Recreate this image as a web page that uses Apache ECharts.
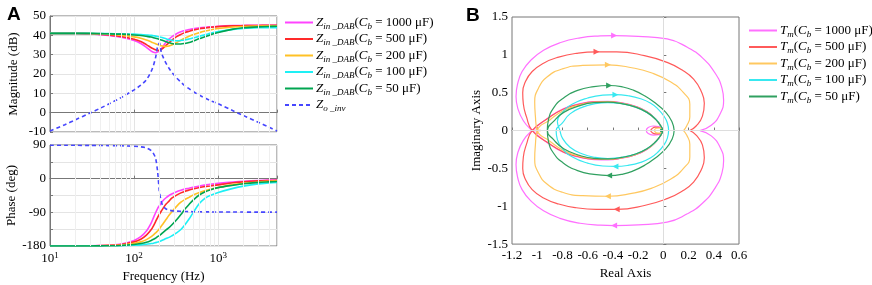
<!DOCTYPE html>
<html>
<head>
<meta charset="utf-8">
<script src="https://cdn.jsdelivr.net/npm/echarts@6/dist/echarts.min.js"></script>
<style>
html, body { margin: 0; background: #fff; }
#chart { width: 872px; height: 285px; }
</style>
</head>
<body>
<div id="chart"></div>
<script>
// capacitance cases (legend order)
const caps = ['1000', '500', '200', '100', '50']

// frequency points (Hz) for panel A
const freq = [10, 15, 20, 30, 40, 50, 70, 100, 120, 140, 160, 170, 180, 190, 200, 210, 220, 240, 260, 280, 320, 360, 400, 450, 500, 600, 700, 800, 1000, 1500, 2000, 3000, 4000, 5000]

// magnitude (dB)
const magZo = [-9.5, -6.2, -3.7, -0.2, 2.4, 4.5, 7.8, 11.8, 14.2, 17, 21.5, 24.5, 28.5, 34, 36, 31.5, 29, 25.5, 23, 21, 18, 15.8, 14, 12.4, 11, 9, 7.5, 6.3, 4.6, 1, -1.5, -5, -7.5, -9.5]
const mag1000 = [41, 41, 41, 40.7, 40.3, 39.9, 39, 37.3, 35.8, 33.8, 31.8, 31.2, 31, 31.3, 32, 33, 34.2, 36.5, 38, 39.2, 40.8, 41.8, 42.5, 43, 43.4, 43.9, 44.2, 44.4, 44.7, 45, 45.1, 45.2, 45.2, 45.2]
const mag500 = [41, 41, 41, 40.8, 40.5, 40.2, 39.4, 38, 36.8, 35.2, 33.6, 33, 32.5, 32.2, 32.2, 32.6, 33.3, 34.8, 36.2, 37.4, 39.3, 40.5, 41.4, 42.1, 42.7, 43.4, 43.8, 44.1, 44.5, 44.9, 45, 45.1, 45.2, 45.2]
const mag200 = [41, 41, 41, 40.9, 40.8, 40.6, 40.1, 39.2, 38.5, 37.6, 36.6, 36.1, 35.6, 35.2, 34.9, 34.6, 34.4, 34.3, 34.5, 35, 36.3, 37.5, 38.5, 39.5, 40.3, 41.4, 42.2, 42.8, 43.5, 44.3, 44.6, 44.8, 44.9, 44.9]
const mag100 = [41, 41, 41, 41, 40.95, 40.9, 40.8, 40.6, 40.4, 40.2, 40, 39.8, 39.6, 39.4, 39.2, 39, 38.7, 38.2, 37.7, 37.4, 37.2, 37.3, 37.6, 38.1, 38.6, 39.6, 40.3, 41, 41.9, 43.1, 43.6, 43.9, 44, 44]
const mag50 = [41, 41, 41, 41, 40.9, 40.8, 40.6, 40.2, 39.9, 39.5, 39.1, 38.8, 38.5, 38.2, 37.9, 37.6, 37.3, 36.7, 36.2, 35.8, 35.5, 35.5, 35.8, 36.3, 37, 38.3, 39.3, 40.2, 41.5, 43.2, 43.9, 44.4, 44.6, 44.7]

// phase (deg)
const phZo = [89.5, 89.4, 89.2, 89, 88.7, 88.4, 87.8, 86.5, 85, 82, 75, 67, 55, 20, -35, -60, -73, -81, -84, -85.5, -86.8, -87.4, -87.8, -88.1, -88.3, -88.6, -88.8, -88.9, -89, -89.2, -89.3, -89.4, -89.4, -89.5]
const ph1000 = [-180, -180, -179.8, -179.5, -179, -178, -175, -165, -155, -140, -118, -104, -91, -80, -72, -65, -59, -51, -45, -41, -35, -31, -28, -25.5, -23, -19.5, -17, -15, -12.5, -9, -7, -5, -4, -3.5]
const ph500 = [-180, -180, -179.8, -179.5, -179, -178.3, -176, -169, -162, -151, -136, -126, -115, -104, -95, -87, -80, -68, -60, -52, -44, -38, -34, -30.5, -27.5, -23.5, -21, -19.5, -16.5, -11, -8.5, -6, -5, -4.5]
const ph200 = [-180, -180, -179.9, -179.7, -179.4, -179, -177.5, -173, -169, -163, -155, -150, -145, -140, -134, -127, -121, -109, -98, -89, -74, -63, -56, -50, -44, -37, -32, -28.5, -23.5, -16, -12.5, -9, -7, -6]
const ph100 = [-180, -180, -180, -179.9, -179.7, -179.5, -179, -178, -177, -175.5, -173.5, -172.5, -171, -169.5, -168, -166, -164, -160, -157, -153, -145, -136, -124, -108, -92, -66, -52, -45, -37, -26, -20, -14, -11.5, -10]
const ph50 = [-180, -180, -180, -179.8, -179.6, -179.3, -178.5, -176, -173.5, -170, -165, -162, -159, -155, -152, -148, -144, -137, -131, -124, -110, -96, -82, -69, -58, -43, -35, -30, -24, -17.5, -13.5, -10, -8.5, -7.5]

// Nyquist of T_m, upper half: outer arc (left crossing -> right end), inner arc (left crossing -> origin), small loop at origin
const tmOuter1000 = [[-1.04, 0], [-1.11, 0.13], [-1.155, 0.3], [-1.168, 0.45], [-1.155, 0.62], [-1.12, 0.78], [-1.05, 0.93], [-0.95, 1.06], [-0.82, 1.16], [-0.66, 1.225], [-0.5, 1.25], [-0.39, 1.255], [-0.2, 1.245], [0.03, 1.21], [0.19, 1.1], [0.31, 0.96], [0.41, 0.76], [0.465, 0.56], [0.478, 0.4], [0.45, 0.22], [0.38, 0.07], [0.29, 0]]
const tmOuter500 = [[-1.04, 0], [-1.085, 0.18], [-1.11, 0.35], [-1.115, 0.5], [-1.095, 0.64], [-1.04, 0.78], [-0.95, 0.89], [-0.83, 0.97], [-0.69, 1.02], [-0.53, 1.04], [-0.37, 1.04], [-0.15, 0.99], [0.03, 0.9], [0.15, 0.8], [0.24, 0.68], [0.3, 0.52], [0.325, 0.36], [0.31, 0.19], [0.26, 0.06], [0.21, 0]]
const tmOuter200 = [[-1.0, 0], [-1.015, 0.2], [-1.02, 0.38], [-0.99, 0.56], [-0.92, 0.71], [-0.8, 0.815], [-0.64, 0.86], [-0.44, 0.868], [-0.25, 0.83], [-0.09, 0.76], [0.06, 0.64], [0.16, 0.5], [0.21, 0.35], [0.21, 0.18], [0.185, 0.06], [0.16, 0]]
const tmOuter100 = [[-0.85, 0], [-0.84, 0.12], [-0.8, 0.24], [-0.72, 0.35], [-0.6, 0.43], [-0.48, 0.468], [-0.38, 0.474], [-0.28, 0.46], [-0.18, 0.42], [-0.1, 0.36], [-0.04, 0.28], [0.005, 0.19], [0.032, 0.1], [0.042, 0]]
const tmOuter50 = [[-0.92, 0], [-0.91, 0.15], [-0.87, 0.3], [-0.8, 0.42], [-0.68, 0.53], [-0.55, 0.58], [-0.43, 0.595], [-0.32, 0.575], [-0.234, 0.53], [-0.15, 0.46], [-0.077, 0.38], [0.02, 0.24], [0.07, 0.11], [0.086, 0]]

const tmInner1000 = [[-1.04, 0], [-0.92, 0.16], [-0.79, 0.29], [-0.66, 0.355], [-0.55, 0.383], [-0.44, 0.387], [-0.33, 0.365], [-0.22, 0.32], [-0.13, 0.25], [-0.06, 0.15], [-0.02, 0.06], [0, 0]]
const tmInner500 = [[-1.04, 0], [-0.92, 0.155], [-0.79, 0.285], [-0.66, 0.35], [-0.55, 0.378], [-0.44, 0.382], [-0.33, 0.362], [-0.22, 0.318], [-0.13, 0.248], [-0.06, 0.15], [-0.02, 0.06], [0, 0]]
const tmInner200 = [[-1.0, 0], [-0.9, 0.14], [-0.79, 0.265], [-0.66, 0.34], [-0.55, 0.372], [-0.44, 0.378], [-0.33, 0.36], [-0.22, 0.315], [-0.13, 0.245], [-0.06, 0.15], [-0.02, 0.06], [0, 0]]
const tmInner100 = [[-0.82, 0], [-0.8, 0.1], [-0.74, 0.22], [-0.64, 0.31], [-0.54, 0.355], [-0.44, 0.37], [-0.33, 0.355], [-0.22, 0.31], [-0.13, 0.24], [-0.06, 0.15], [-0.02, 0.06], [0, 0]]
const tmInner50 = [[-0.92, 0], [-0.87, 0.12], [-0.79, 0.24], [-0.66, 0.33], [-0.55, 0.368], [-0.44, 0.375], [-0.33, 0.355], [-0.22, 0.31], [-0.13, 0.24], [-0.06, 0.145], [-0.02, 0.06], [0, 0]]

const tmLoop1000 = [[0, 0], [-0.03, 0.05], [-0.08, 0.06], [-0.12, 0.04], [-0.135, 0]]
const tmLoop500 = [[0, 0], [-0.03, 0.04], [-0.065, 0.045], [-0.09, 0.025], [-0.1, 0]]
const tmLoop200 = [[0, 0], [-0.025, 0.035], [-0.055, 0.03], [-0.07, 0]]
const tmLoop100 = [[0, 0], [-0.01, 0.015], [-0.025, 0]]
const tmLoop50 = [[0, 0], [-0.01, 0.015], [-0.025, 0]]

const criticalPoint = [[-1, 0]]

const magData = [mag1000, mag500, mag200, mag100, mag50]
const phData = [ph1000, ph500, ph200, ph100, ph50]
const tmOuter = [tmOuter1000, tmOuter500, tmOuter200, tmOuter100, tmOuter50]
const tmInner = [tmInner1000, tmInner500, tmInner200, tmInner100, tmInner50]
const tmLoop = [tmLoop1000, tmLoop500, tmLoop200, tmLoop100, tmLoop50]

const colorsA = ['#ff44ff', '#ff2a2a', '#ffc125', '#1ef0f5', '#00a550']
const colorsB = ['#ff70ff', '#ff5a5a', '#ffc860', '#38e8f0', '#30a060']
const zoColor = '#4646ff'

const serif = 'Liberation Serif'
const richBase = {
  n: { fontFamily: serif, fontSize: 13, color: '#000', lineHeight: 17, verticalAlign: 'middle' },
  it: { fontFamily: serif, fontSize: 13, fontStyle: 'italic', color: '#000', lineHeight: 17, verticalAlign: 'middle' },
  sub: { fontFamily: serif, fontSize: 9, fontStyle: 'italic', color: '#000', lineHeight: 9, verticalAlign: 'bottom' }
}

// closed Nyquist contour from the upper-half arcs and their conjugates
const nyquistPath = (outer, inner, loop) => {
  const conj = p => [p[0], -p[1]]
  return [
    ...outer.slice().reverse().map(conj),
    ...inner.slice(1),
    ...loop.slice(1),
    ...loop.slice(0, -1).reverse().map(conj),
    ...inner.slice(0, -1).reverse().map(conj),
    ...outer.slice(1)
  ]
}

const withArrows = path => {
  let top = 0, bot = 0
  path.forEach((p, i) => {
    if (p[1] > path[top][1]) top = i
    if (p[1] < path[bot][1]) bot = i
  })
  return path.map((p, i) => {
    if (i === top) return { value: p, symbol: 'triangle', symbolSize: 6, symbolRotate: -90 }
    if (i === bot) return { value: p, symbol: 'triangle', symbolSize: 6, symbolRotate: 90 }
    return p
  })
}

// minor log grid positions
const minorFreq = []
;[10, 100, 1000].forEach(d => {
  for (let k = 2; k <= 9; k++) if (d * k < 5000) minorFreq.push(d * k)
})

const logLabel = v => {
  const l = Math.log10(v)
  const r = Math.round(l)
  return Math.abs(l - r) < 1e-6 ? '{b|10}{s|' + r + '}' : ''
}

const axisTextStyle = { fontFamily: serif, fontSize: 13, color: '#000' }
const frameLine = { show: true, lineStyle: { color: '#777', width: 1 } }
const tickIn = { show: true, inside: true, length: 3, lineStyle: { color: '#777' } }
const gridLine = { show: true, lineStyle: { color: '#e4e4e4', width: 1 } }

const series = []
for (const g of [0, 1]) {
  series.push({
    type: 'line', xAxisIndex: g, yAxisIndex: g, data: [], silent: true, z: 1,
    markLine: {
      silent: true, symbol: 'none', label: { show: false },
      lineStyle: { color: '#efefef', width: 1, type: 'solid' },
      data: minorFreq.map(f => ({ xAxis: f }))
    }
  })
}
caps.forEach((c, k) => {
  series.push({
    name: 'Z' + c, type: 'line', xAxisIndex: 0, yAxisIndex: 0, symbol: 'none', smooth: 0.3,
    lineStyle: { color: colorsA[k], width: 1.6 }, itemStyle: { color: colorsA[k] },
    data: freq.map((f, i) => [f, magData[k][i]])
  })
  series.push({
    name: 'Z' + c, type: 'line', xAxisIndex: 1, yAxisIndex: 1, symbol: 'none', smooth: 0.3,
    lineStyle: { color: colorsA[k], width: 1.6 }, itemStyle: { color: colorsA[k] },
    data: freq.map((f, i) => [f, phData[k][i]])
  })
})
series.push({
  name: 'Zo', type: 'line', xAxisIndex: 0, yAxisIndex: 0, symbol: 'none', smooth: 0.3,
  lineStyle: { color: zoColor, width: 1.6, type: [4, 3] }, itemStyle: { color: zoColor },
  data: freq.map((f, i) => [f, magZo[i]])
})
series.push({
  name: 'Zo', type: 'line', xAxisIndex: 1, yAxisIndex: 1, symbol: 'none', smooth: 0.3,
  lineStyle: { color: zoColor, width: 1.6, type: [4, 3] }, itemStyle: { color: zoColor },
  data: freq.map((f, i) => [f, phZo[i]])
})

// panel B
series.push({
  type: 'line', xAxisIndex: 2, yAxisIndex: 2, data: [], silent: true, z: 1,
  markLine: {
    silent: true, symbol: 'none', label: { show: false },
    lineStyle: { color: '#dddddd', width: 1, type: 'solid' },
    data: [{ xAxis: 0 }, { yAxis: 0 }]
  }
})
caps.forEach((c, k) => {
  series.push({
    name: 'T' + c, type: 'line', xAxisIndex: 2, yAxisIndex: 2, symbol: 'none', smooth: 0.5,
    lineStyle: { color: colorsB[k], width: 1.2 }, itemStyle: { color: colorsB[k] },
    data: withArrows(nyquistPath(tmOuter[k], tmInner[k], tmLoop[k]))
  })
})
series.push({
  type: 'scatter', xAxisIndex: 2, yAxisIndex: 2, silent: true,
  symbol: 'path://M4,0H6V4H10V6H6V10H4V6H0V4H4Z', symbolSize: 7,
  itemStyle: { color: '#ff7070' },
  data: criticalPoint
})

const legendBase = {
  orient: 'vertical', itemWidth: 28, itemHeight: 12,
  itemStyle: { opacity: 0 },
  textStyle: { rich: richBase, padding: [0, 0, 0, -2] }
}

const option = {
  animation: false,
  backgroundColor: '#fff',
  title: [
    { text: 'A', left: 2, top: 0, textStyle: { fontFamily: 'Liberation Sans', fontWeight: 'bold', fontSize: 19, color: '#000' } },
    { text: 'B', left: 461, top: 1, textStyle: { fontFamily: 'Liberation Sans', fontWeight: 'bold', fontSize: 19, color: '#000' } }
  ],
  grid: [
    { left: 50, top: 16, width: 227, height: 116, show: true, borderColor: '#777', borderWidth: 1 },
    { left: 50, top: 145, width: 227, height: 101, show: true, borderColor: '#777', borderWidth: 1 },
    { left: 512, top: 17, width: 227, height: 231, show: true, borderColor: '#777', borderWidth: 1 }
  ],
  legend: [
    Object.assign({}, legendBase, {
      left: 279, top: 11, itemGap: 1.5,
      data: caps.map(c => 'Z' + c).concat(['Zo']),
      formatter: name => name === 'Zo'
        ? '{it|Z}{sub|o _inv}'
        : '{it|Z}{sub|in _DAB}{n|(}{it|C}{sub|b}{n| = ' + name.slice(1) + ' μF)}'
    }),
    Object.assign({}, legendBase, {
      left: 743, top: 19, itemGap: 1.5,
      data: caps.map(c => 'T' + c),
      formatter: name => '{it|T}{sub|m}{n|(}{it|C}{sub|b}{n| = ' + name.slice(1) + ' μF)}'
    })
  ],
  xAxis: [
    {
      type: 'log', gridIndex: 0, min: 10, max: 5000, logBase: 10,
      axisLine: frameLine, axisTick: tickIn, splitLine: gridLine,
      axisLabel: { show: false }
    },
    {
      type: 'log', gridIndex: 1, min: 10, max: 5000, logBase: 10,
      axisLine: frameLine, axisTick: tickIn, splitLine: gridLine,
      name: 'Frequency (Hz)', nameLocation: 'middle', nameGap: 24, nameTextStyle: axisTextStyle,
      axisLabel: {
        margin: 5, formatter: logLabel,
        rich: {
          b: { fontFamily: serif, fontSize: 13, color: '#000', lineHeight: 16, verticalAlign: 'middle' },
          s: { fontFamily: serif, fontSize: 9, color: '#000', lineHeight: 9, verticalAlign: 'top' }
        }
      }
    },
    {
      type: 'value', gridIndex: 2, min: -1.2, max: 0.6, interval: 0.2,
      axisLine: frameLine, axisTick: tickIn, splitLine: { show: false },
      name: 'Real Axis', nameLocation: 'middle', nameGap: 22, nameTextStyle: axisTextStyle,
      axisLabel: Object.assign({ margin: 5 }, axisTextStyle)
    }
  ],
  yAxis: [
    {
      type: 'value', gridIndex: 0, min: -10, max: 50, interval: 10,
      axisLine: frameLine, axisTick: tickIn, splitLine: gridLine,
      name: 'Magnitude (dB)', nameLocation: 'middle', nameGap: 30, nameTextStyle: axisTextStyle,
      axisLabel: Object.assign({ margin: 4 }, axisTextStyle)
    },
    {
      type: 'value', gridIndex: 1, min: -180, max: 90, interval: 45,
      axisLine: frameLine, axisTick: tickIn, splitLine: gridLine,
      name: 'Phase (deg)', nameLocation: 'middle', nameGap: 30, nameTextStyle: axisTextStyle,
      axisLabel: Object.assign({ margin: 4, formatter: v => (v % 90 === 0 ? String(v) : '') }, axisTextStyle)
    },
    {
      type: 'value', gridIndex: 2, min: -1.5, max: 1.5, interval: 0.5,
      axisLine: frameLine, axisTick: tickIn, splitLine: { show: false },
      name: 'Imaginary Axis', nameLocation: 'middle', nameGap: 27, nameTextStyle: axisTextStyle,
      axisLabel: Object.assign({ margin: 4 }, axisTextStyle)
    }
  ],
  series: series
}

const chart = echarts.init(document.getElementById('chart'), null, { renderer: 'canvas' })
chart.setOption(option)
window.addEventListener('resize', () => chart.resize())
</script>
</body>
</html>
